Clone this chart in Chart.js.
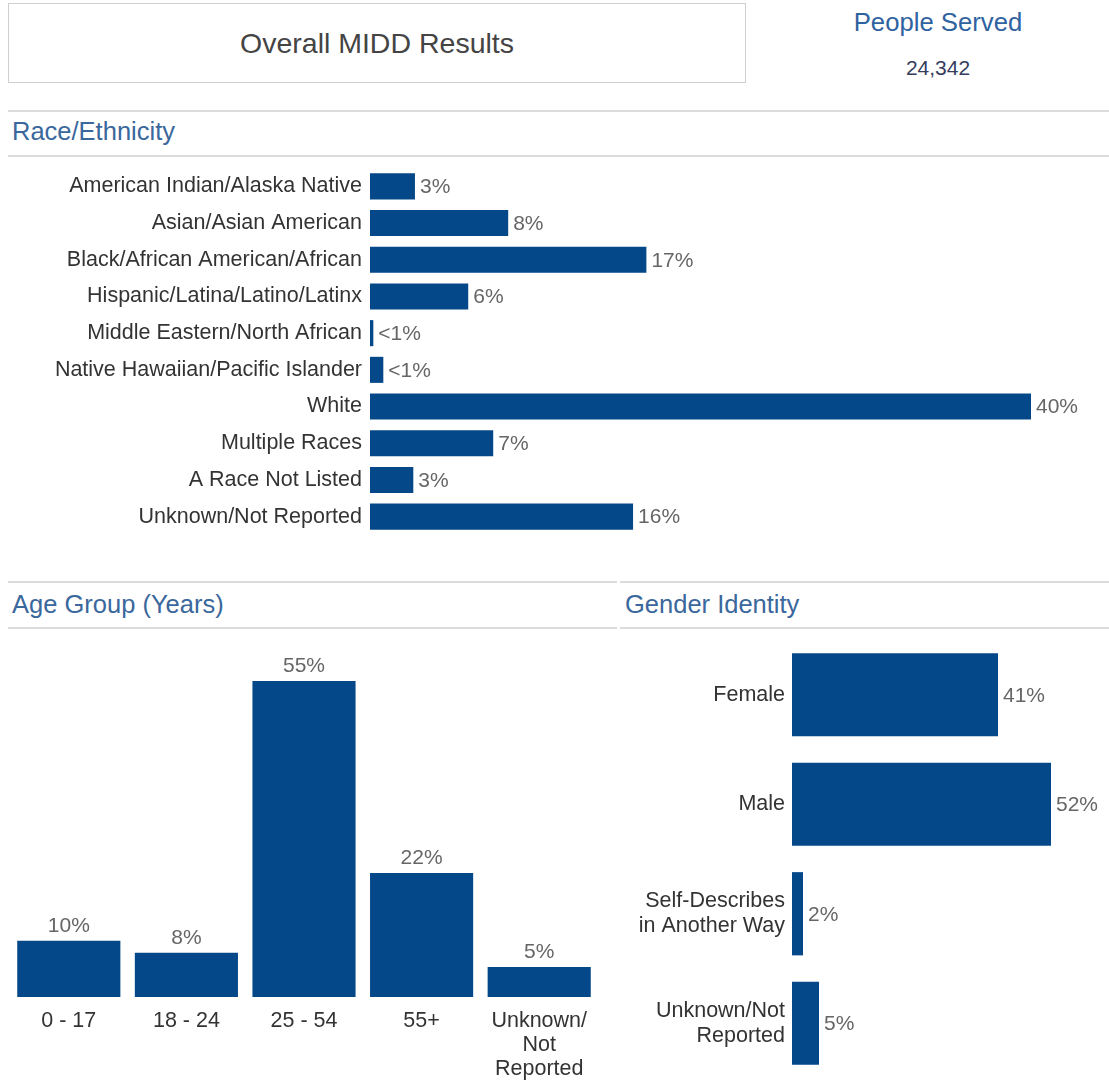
<!DOCTYPE html>
<html>
<head>
<meta charset="utf-8">
<script src="https://cdn.jsdelivr.net/npm/chart.js@4.4.1/dist/chart.umd.min.js"></script>
<style>
  body { margin: 0; background: #fff; font-family: "Liberation Sans", Arial, sans-serif; }
  .abs { position: absolute; }
  .box { left: 8px; top: 3px; width: 736px; height: 78px; border: 1px solid #cfcfcf;
         display: flex; align-items: center; justify-content: center; font-size: 28.5px; color: #444; }
  .rule { height: 2px; background: #dcdcdc; }
  .head { font-size: 25.5px; color: #3a679c; }
  canvas { position: absolute; }
</style>
</head>
<body>
<div class="abs box">Overall MIDD Results</div>
<div class="abs" style="left:800px;top:8px;width:276px;text-align:center;font-size:25.7px;color:#2f62a0;">People Served</div>
<div class="abs" style="left:800px;top:56px;width:276px;text-align:center;font-size:21px;color:#343d5e;">24,342</div>

<div class="abs rule" style="left:8px;top:110px;width:1101px;"></div>
<div class="abs head" style="left:12px;top:117px;">Race/Ethnicity</div>
<div class="abs rule" style="left:8px;top:155px;width:1101px;"></div>

<div class="abs rule" style="left:8px;top:581px;width:609px;"></div>
<div class="abs rule" style="left:620px;top:581px;width:489px;"></div>
<div class="abs head" style="left:12px;top:590px;">Age Group (Years)</div>
<div class="abs head" style="left:625px;top:590px;">Gender Identity</div>
<div class="abs rule" style="left:8px;top:627px;width:609px;"></div>
<div class="abs rule" style="left:620px;top:627px;width:489px;"></div>

<canvas id="race" style="left:0;top:160px;" width="1109" height="385"></canvas>
<canvas id="age" style="left:0;top:640px;" width="615" height="440"></canvas>
<canvas id="gender" style="left:620px;top:636px;" width="489" height="444"></canvas>

<script>
const raceCategories = [
  "American Indian/Alaska Native", "Asian/Asian American", "Black/African American/African",
  "Hispanic/Latina/Latino/Latinx", "Middle Eastern/North African", "Native Hawaiian/Pacific Islander",
  "White", "Multiple Races", "A Race Not Listed", "Unknown/Not Reported"
];
const raceValues = [2.7, 8.3, 16.6, 5.9, 0.2, 0.8, 39.7, 7.4, 2.6, 15.8];

const ageCategories = [["0 - 17"], ["18 - 24"], ["25 - 54"], ["55+"], ["Unknown/", "Not", "Reported"]];
const ageValues = [9.8, 7.7, 55.0, 21.6, 5.2];

const genderCategories = [["Female"], ["Male"], ["Self-Describes", "in Another Way"], ["Unknown/Not", "Reported"]];
const genderValues = [41.2, 51.8, 2.2, 5.4];

const barColor = "#04488a";
const labelFont = { family: "Liberation Sans, Arial, sans-serif", size: 21.5 };

function pct(v) {
  return v < 1 ? "<1%" : Math.round(v) + "%";
}

// draws the percent next to / above each bar
const valueLabels = {
  id: "valueLabels",
  afterDatasetsDraw(chart) {
    const ctx = chart.ctx;
    const horizontal = chart.options.indexAxis === "y";
    const meta = chart.getDatasetMeta(0);
    ctx.save();
    ctx.font = "21px Liberation Sans, Arial, sans-serif";
    ctx.fillStyle = "#666";
    meta.data.forEach((bar, i) => {
      const txt = pct(chart.data.datasets[0].data[i]);
      if (horizontal) {
        ctx.textAlign = "left";
        ctx.textBaseline = "middle";
        ctx.fillText(txt, bar.x + 5, bar.y + 1);
      } else {
        ctx.textAlign = "center";
        ctx.textBaseline = "bottom";
        ctx.fillText(txt, bar.x, bar.y - 4);
      }
    });
    ctx.restore();
  }
};

// category axis: fixed width, no extra padding from the label sizes
function fixAxis(width) {
  return s => {
    s.width = width;
    s.paddingTop = 0;
    s.paddingBottom = 0;
  };
}

Chart.defaults.animation = false;
Chart.defaults.color = "#333";

new Chart(document.getElementById("race"), {
  type: "bar",
  data: {
    labels: raceCategories,
    datasets: [{ data: raceValues, backgroundColor: barColor, barPercentage: 0.71, categoryPercentage: 1 }]
  },
  options: {
    indexAxis: "y",
    responsive: false,
    layout: { padding: { top: 8, bottom: 10, right: 73, left: 0 } },
    plugins: { legend: { display: false }, tooltip: { enabled: false } },
    scales: {
      x: { display: false, min: 0, max: 40 },
      y: {
        grid: { display: false, drawTicks: false }, border: { display: false },
        ticks: { font: labelFont, color: "#333", padding: 8 },
        afterFit: fixAxis(370)
      }
    }
  },
  plugins: [valueLabels]
});

new Chart(document.getElementById("age"), {
  type: "bar",
  data: {
    labels: ageCategories,
    datasets: [{ data: ageValues, backgroundColor: barColor, barPercentage: 0.877, categoryPercentage: 1 }]
  },
  options: {
    responsive: false,
    layout: { padding: { top: 41, bottom: 0, left: 10, right: 17 } },
    plugins: { legend: { display: false }, tooltip: { enabled: false } },
    scales: {
      y: { display: false, min: 0, max: 55 },
      x: {
        grid: { display: false }, border: { display: false },
        ticks: { font: { ...labelFont, lineHeight: 1.12 }, color: "#333", padding: 4, maxRotation: 0, autoSkip: false },
        afterFit: s => { s.height = 83; }
      }
    }
  },
  plugins: [valueLabels]
});

new Chart(document.getElementById("gender"), {
  type: "bar",
  data: {
    labels: genderCategories,
    datasets: [{ data: genderValues, backgroundColor: barColor, barPercentage: 0.76, categoryPercentage: 1 }]
  },
  options: {
    indexAxis: "y",
    responsive: false,
    layout: { padding: { top: 4, bottom: 2, right: 17, left: 0 } },
    plugins: { legend: { display: false }, tooltip: { enabled: false } },
    scales: {
      x: { display: false, min: 0, max: 60 },
      y: {
        grid: { display: false, drawTicks: false }, border: { display: false },
        ticks: { font: { ...labelFont, lineHeight: 1.15 }, color: "#333", padding: 7 },
        afterFit: fixAxis(172)
      }
    }
  },
  plugins: [valueLabels]
});
</script>
</body>
</html>
